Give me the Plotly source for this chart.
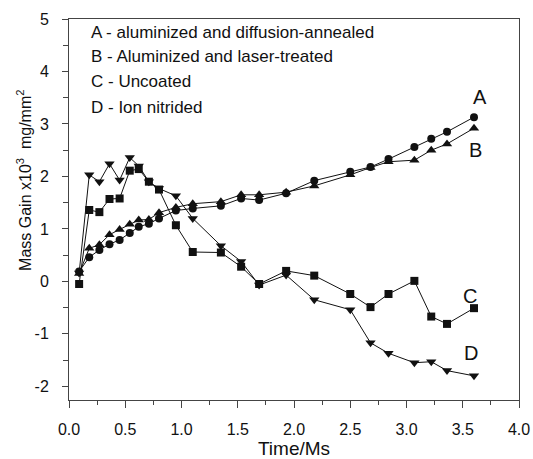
import plotly.graph_objects as go

time_ms = [0.09, 0.18, 0.27, 0.36, 0.45, 0.54, 0.62, 0.71, 0.80, 0.95, 1.10, 1.35,
           1.53, 1.69, 1.93, 2.18, 2.50, 2.68, 2.84, 3.07, 3.22, 3.36, 3.60]

gain_A = [0.19, 0.46, 0.60, 0.71, 0.79, 0.92, 1.04, 1.10, 1.20, 1.35, 1.39, 1.44,
          1.58, 1.55, 1.68, 1.92, 2.09, 2.18, 2.33, 2.56, 2.72, 2.85, 3.13]
gain_B = [0.15, 0.63, 0.70, 0.89, 0.99, 1.09, 1.17, 1.18, 1.31, 1.41, 1.48, 1.52,
          1.65, 1.65, 1.70, 1.82, 2.03, 2.17, 2.28, 2.31, 2.50, 2.62, 2.92]
gain_C = [-0.05, 1.36, 1.32, 1.57, 1.58, 2.11, 2.14, 1.90, 1.75, 1.07, 0.56, 0.55,
          0.28, -0.05, 0.20, 0.11, -0.24, -0.49, -0.24, 0.01, -0.67, -0.81, -0.51]
gain_D = [0.16, 2.03, 1.90, 2.24, 1.93, 2.36, 2.20, 1.90, 1.77, 1.63, 1.20, 0.68,
          0.38, -0.07, 0.12, -0.35, -0.54, -1.17, -1.37, -1.55, -1.53, -1.70, -1.80]

legend_lines = ["A - aluminized and diffusion-annealed",
                "B - Aluminized and laser-treated",
                "C - Uncoated",
                "D - Ion nitrided"]
curve_labels = ["A", "B", "C", "D"]
x_ticks = [0.0, 0.5, 1.0, 1.5, 2.0, 2.5, 3.0, 3.5, 4.0]
y_ticks = [-2, -1, 0, 1, 2, 3, 4, 5]

series = [
    ("A", gain_A, "circle", 8),
    ("B", gain_B, "triangle-up", 9),
    ("C", gain_C, "square", 8),
    ("D", gain_D, "triangle-down", 9),
]

fig = go.Figure()
for name, vals, sym, sz in series:
    fig.add_trace(go.Scatter(
        x=time_ms, y=vals, mode="lines+markers", name=name,
        line=dict(color="#111111", width=1),
        marker=dict(symbol=sym, size=sz, color="#111111", line=dict(width=0)),
        showlegend=False, cliponaxis=False, hoverinfo="skip",
    ))

font = "Liberation Sans, Arial, Helvetica, sans-serif"

# legend text block
leg_y = [4.75, 4.28, 3.80, 3.32]
for txt, yy in zip(legend_lines, leg_y):
    fig.add_annotation(x=0.178, y=yy, xref="x", yref="y", text=txt,
                       showarrow=False, xanchor="left", yanchor="middle",
                       font=dict(size=17, color="#111111", family=font))

# curve labels
label_pos = [(3.65, 3.52), (3.61, 2.50), (3.56, -0.28), (3.57, -1.36)]
for lab, (xx, yy) in zip(curve_labels, label_pos):
    fig.add_annotation(x=xx, y=yy, xref="x", yref="y", text=lab, showarrow=False,
                       xanchor="center", yanchor="middle",
                       font=dict(size=20, color="#111111", family=font))

# y-axis title (as rotated annotation, placed like the reference)
fig.add_annotation(x=-0.10, y=0.575, xref="paper", yref="paper",
                   text="Mass Gain x10<sup>3</sup>  mg/mm<sup>2</sup>",
                   textangle=-90, showarrow=False, xanchor="center", yanchor="middle",
                   font=dict(size=16, color="#111111", family=font))

axis_common = dict(showgrid=False, zeroline=False, showline=True, linecolor="#444444",
                   linewidth=1, mirror=True, ticks="outside", tickcolor="#444444",
                   automargin=False,
                   tickfont=dict(size=16, color="#111111", family=font))

fig.update_xaxes(range=[0, 4], tickvals=x_ticks, ticktext=[f"{v:.1f}" for v in x_ticks],
                 ticklen=7, ticklabelstandoff=8,
                 minor=dict(dtick=0.25, ticklen=4, ticks="outside", tickcolor="#444444"),
                 title=dict(text="Time/Ms", font=dict(size=19, color="#111111", family=font),
                            standoff=2),
                 **axis_common)
fig.update_yaxes(range=[-2.26, 5], tickvals=y_ticks, ticktext=[str(v) for v in y_ticks],
                 ticklen=6, ticklabelstandoff=10,
                 minor=dict(dtick=0.5, ticklen=5, ticks="outside", tickcolor="#444444"),
                 **axis_common)

fig.update_layout(width=533, height=459, margin=dict(l=69, r=14, t=19, b=59),
                  plot_bgcolor="white", paper_bgcolor="white", hovermode=False)

fig.write_html("out.html", config={"displayModeBar": False, "staticPlot": True},
               post_script="document.body.style.margin='0';document.body.style.overflow='hidden';")
